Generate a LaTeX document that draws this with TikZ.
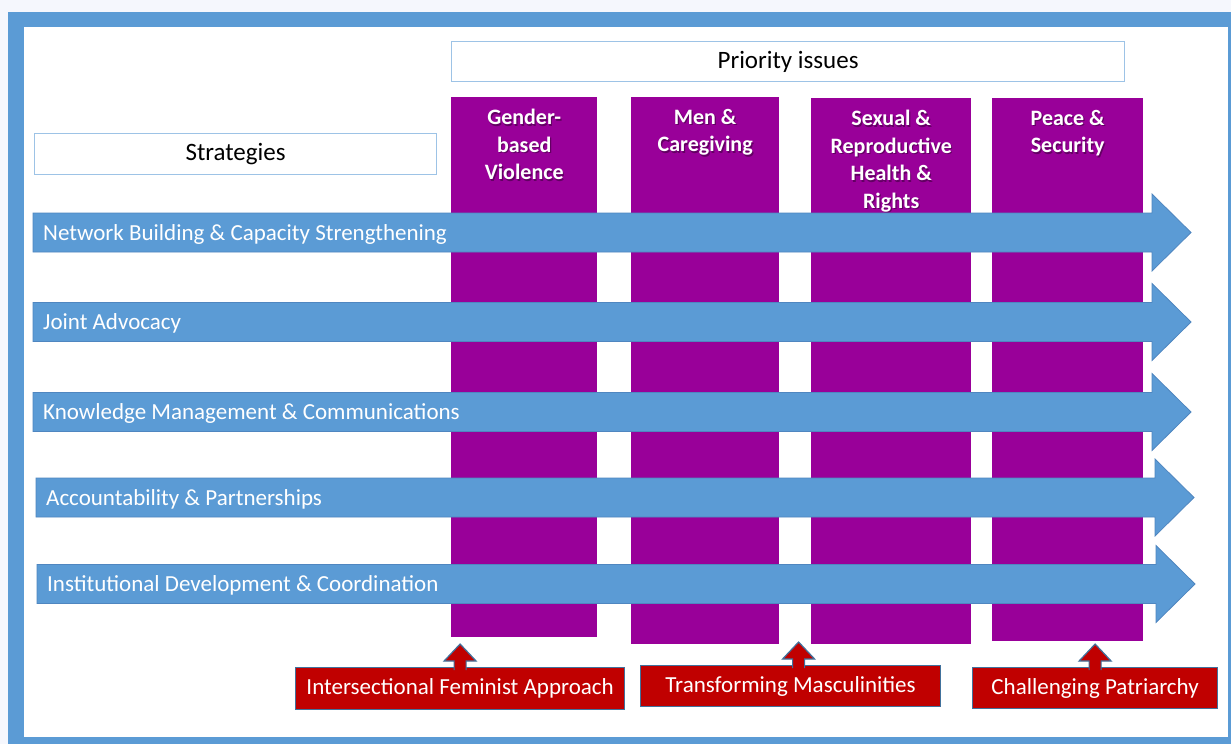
\documentclass[tikz,border=0pt]{standalone}
\usepackage{fontspec}
\setmainfont{Carlito}

\definecolor{frameblue}{HTML}{5B9BD5}
\definecolor{arrowline}{HTML}{4F86C0}
\definecolor{pagebg}{HTML}{F5F7FD}
\definecolor{boxline}{HTML}{9DC3E6}
\definecolor{issue}{HTML}{990099}
\definecolor{lensred}{HTML}{C00000}
\definecolor{lensline}{HTML}{41719C}

\tikzset{
  headbox/.style={draw=boxline, line width=1.2, fill=white, inner sep=0, anchor=north west,
    font=\fontsize{25}{30}\selectfont},
  issuecol/.style={fill=issue, inner sep=0, anchor=north west},
  issuetitle/.style={anchor=north, align=center, text=white, inner sep=0,
    font=\fontsize{22}{27.6}\selectfont\bfseries},
  strat/.style={fill=frameblue, draw=arrowline, line width=0.8},
  strattext/.style={anchor=base west, text=white, inner sep=0, font=\fontsize{23}{27}\selectfont},
  lens/.style={fill=lensred, draw=lensline, line width=1.2, text=white, inner sep=0,
    anchor=north west, font=\fontsize{23}{27}\selectfont},
  lensarrow/.style={fill=lensred, draw=lensline, line width=1.2, line join=miter},
}

\begin{document}
\begin{tikzpicture}[x=1pt,y=-1pt]
\useasboundingbox (0,0) rectangle (1231,744);
% page and frame
\fill[pagebg] (0,0) rectangle (1231,744);
\fill[frameblue] (8,12) rectangle (1231,744);
\fill[white] (24,27) rectangle (1228,737);

% headings
\node[headbox, minimum width=402, minimum height=41] (strategies) at (34,133) {\raisebox{-1.5pt}{Strategies}};
\node[headbox, minimum width=673, minimum height=40] (priority) at (451,41) {\raisebox{-1pt}{Priority issues}};

% priority issue columns
\node[issuecol, minimum width=146, minimum height=540] (gbv) at (451,97) {};
\node[issuecol, minimum width=148, minimum height=547] (mcg) at (631,97) {};
\node[issuecol, minimum width=160, minimum height=546] (srhr) at (811,98) {};
\node[issuecol, minimum width=151, minimum height=543] (ps) at (992,98) {};

% column titles, with a soft shadow behind
\foreach \c/\t in {gbv/{Gender-\\based\\Violence}, mcg/{Men \&\\Caregiving},
    srhr/{Sexual \&\\Reproductive\\Health \&\\Rights}, ps/{Peace \&\\Security}}{
  \node[issuetitle, text=black, opacity=.35] at ([xshift=1.2,yshift=-13.4]\c.north) {\t};
  \node[issuetitle] (\c-title) at ([yshift=-12]\c.north) {\t};
}

% strategy arrows across the columns
\foreach \n/\s/\c/\t in {nb/33/232.5/Network Building \& Capacity Strengthening,
    ja/33/322/Joint Advocacy,
    km/33/412/Knowledge Management \& Communications,
    ap/36/497.5/Accountability \& Partnerships,
    id/37/584/Institutional Development \& Coordination}{
  \draw[strat] (\s,\c-19.5) -- ++(1119,0) -- ++(0,-19) -- ++(39,38.5)
    -- ++(-39,38.5) -- ++(0,-19) -- ++(-1119,0) -- cycle;
  \node[strattext] (\n) at (\s+10,\c+7.5) {\t};
}

% cross-cutting lenses pointing up into the columns
\node[lens, minimum width=329, minimum height=42] (ifa) at (295,667) {Intersectional Feminist Approach};
\node[lens, minimum width=300, minimum height=41] (tmasc) at (640,665) {\raisebox{-1.5pt}{Transforming Masculinities}};
\node[lens, minimum width=245, minimum height=41] (cpat) at (972,667) {Challenging Patriarchy};
\foreach \b/\dx in {ifa/0, tmasc/8, cpat/0}{
  \draw[lensarrow] ([xshift=\dx]\b.north) ++(-6,3) -- ++(0,-9) -- ++(-10,0) -- ++(16,-17)
    -- ++(16,17) -- ++(-10,0) -- ++(0,9);
}
\end{tikzpicture}
\end{document}
